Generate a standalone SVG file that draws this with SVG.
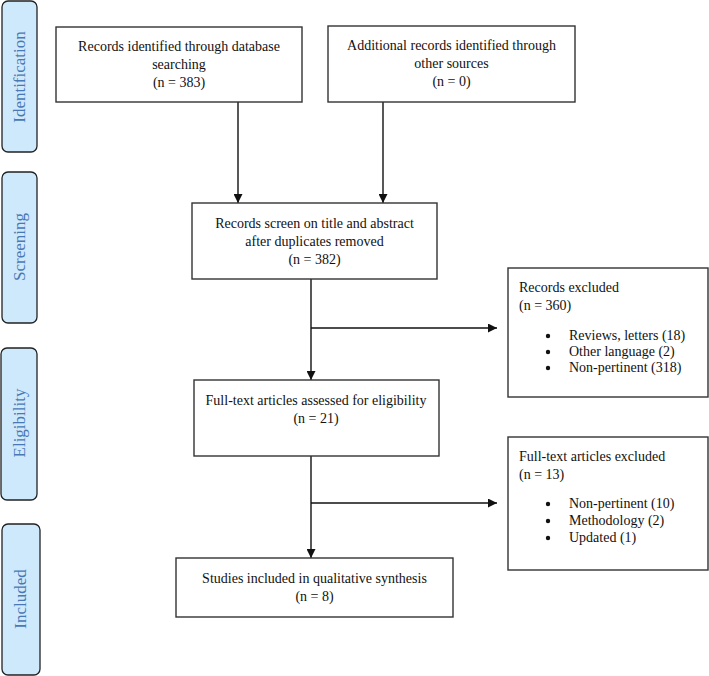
<svg xmlns="http://www.w3.org/2000/svg" width="709" height="676" viewBox="0 0 709 676">
<style>
  .phase { fill: #cde9fb; stroke: #222; stroke-width: 1.3; }
  .phase-label { font-family: "Liberation Serif", "Times New Roman", serif; font-size: 17px; fill: #4a78b5; text-anchor: middle; }
  .box { fill: #fff; stroke: #333; stroke-width: 1.4; }
  .t { font-family: "Liberation Serif", "Times New Roman", serif; font-size: 14px; fill: #111; }
  .c { text-anchor: middle; }
  .edge { stroke: #111; stroke-width: 1.4; fill: none; marker-end: url(#arrow); }
</style>
<defs>
  <marker id="arrow" viewBox="0 0 10 10" refX="10" refY="5" markerUnits="userSpaceOnUse" markerWidth="9" markerHeight="9" orient="auto">
    <path d="M0,0 L10,5 L0,10 z" fill="#111"/>
  </marker>
</defs>
<rect width="709" height="676" fill="#fff"/>

<g id="phase-identification">
  <rect class="phase" x="2" y="1" width="35" height="151" rx="6"/>
  <text class="phase-label" transform="translate(25,77) rotate(-90)">Identification</text>
</g>
<g id="phase-screening">
  <rect class="phase" x="2" y="172" width="35" height="151" rx="6"/>
  <text class="phase-label" transform="translate(25,247) rotate(-90)">Screening</text>
</g>
<g id="phase-eligibility">
  <rect class="phase" x="1" y="348" width="36" height="152" rx="6"/>
  <text class="phase-label" transform="translate(25,423) rotate(-90)">Eligibility</text>
</g>
<g id="phase-included">
  <rect class="phase" x="2" y="524" width="38" height="151" rx="6"/>
  <text class="phase-label" transform="translate(26,599) rotate(-90)">Included</text>
</g>

<g id="connectors">
  <line class="edge" x1="238" y1="102" x2="238" y2="203"/>
  <line class="edge" x1="383" y1="102" x2="383" y2="203"/>
  <line class="edge" x1="311" y1="279" x2="311" y2="380"/>
  <line class="edge" x1="311" y1="456" x2="311" y2="558"/>
  <line class="edge" x1="311" y1="328" x2="497" y2="328"/>
  <line class="edge" x1="311" y1="503" x2="497" y2="503"/>
</g>

<g id="node-database">
  <rect class="box" x="56" y="27" width="246" height="75"/>
  <text class="t c" x="179" y="51">Records identified through database</text>
  <text class="t c" x="179" y="69">searching</text>
  <text class="t c" x="179" y="87">(n = 383)</text>
</g>
<g id="node-other">
  <rect class="box" x="328" y="26" width="247" height="76"/>
  <text class="t c" x="451.5" y="50">Additional records identified through</text>
  <text class="t c" x="451.5" y="68">other sources</text>
  <text class="t c" x="451.5" y="86">(n = 0)</text>
</g>
<g id="node-screen">
  <rect class="box" x="192" y="203" width="245" height="76"/>
  <text class="t c" x="314.5" y="228">Records screen on title and abstract</text>
  <text class="t c" x="314.5" y="246">after duplicates removed</text>
  <text class="t c" x="314.5" y="264">(n = 382)</text>
</g>
<g id="node-records-excluded">
  <rect class="box" x="508" y="268" width="200" height="129"/>
  <text class="t" x="519" y="292">Records excluded</text>
  <text class="t" x="519" y="310">(n = 360)</text>
  <circle cx="548" cy="336" r="2.2" fill="#111"/>
  <circle cx="548" cy="352" r="2.2" fill="#111"/>
  <circle cx="548" cy="368" r="2.2" fill="#111"/>
  <text class="t" x="569" y="340">Reviews, letters (18)</text>
  <text class="t" x="569" y="356">Other language (2)</text>
  <text class="t" x="569" y="372">Non-pertinent (318)</text>
</g>
<g id="node-fulltext">
  <rect class="box" x="194" y="380" width="245" height="76"/>
  <text class="t c" x="316" y="405">Full-text articles assessed for eligibility</text>
  <text class="t c" x="316" y="423">(n = 21)</text>
</g>
<g id="node-fulltext-excluded">
  <rect class="box" x="508" y="437" width="200" height="133"/>
  <text class="t" x="519" y="461">Full-text articles excluded</text>
  <text class="t" x="519" y="479">(n = 13)</text>
  <circle cx="548" cy="504" r="2.2" fill="#111"/>
  <circle cx="548" cy="521" r="2.2" fill="#111"/>
  <circle cx="548" cy="538" r="2.2" fill="#111"/>
  <text class="t" x="569" y="508">Non-pertinent (10)</text>
  <text class="t" x="569" y="525">Methodology (2)</text>
  <text class="t" x="569" y="542">Updated (1)</text>
</g>
<g id="node-included">
  <rect class="box" x="176" y="558" width="277" height="59"/>
  <text class="t c" x="314.5" y="583">Studies included in qualitative synthesis</text>
  <text class="t c" x="314.5" y="601">(n = 8)</text>
</g>
</svg>
